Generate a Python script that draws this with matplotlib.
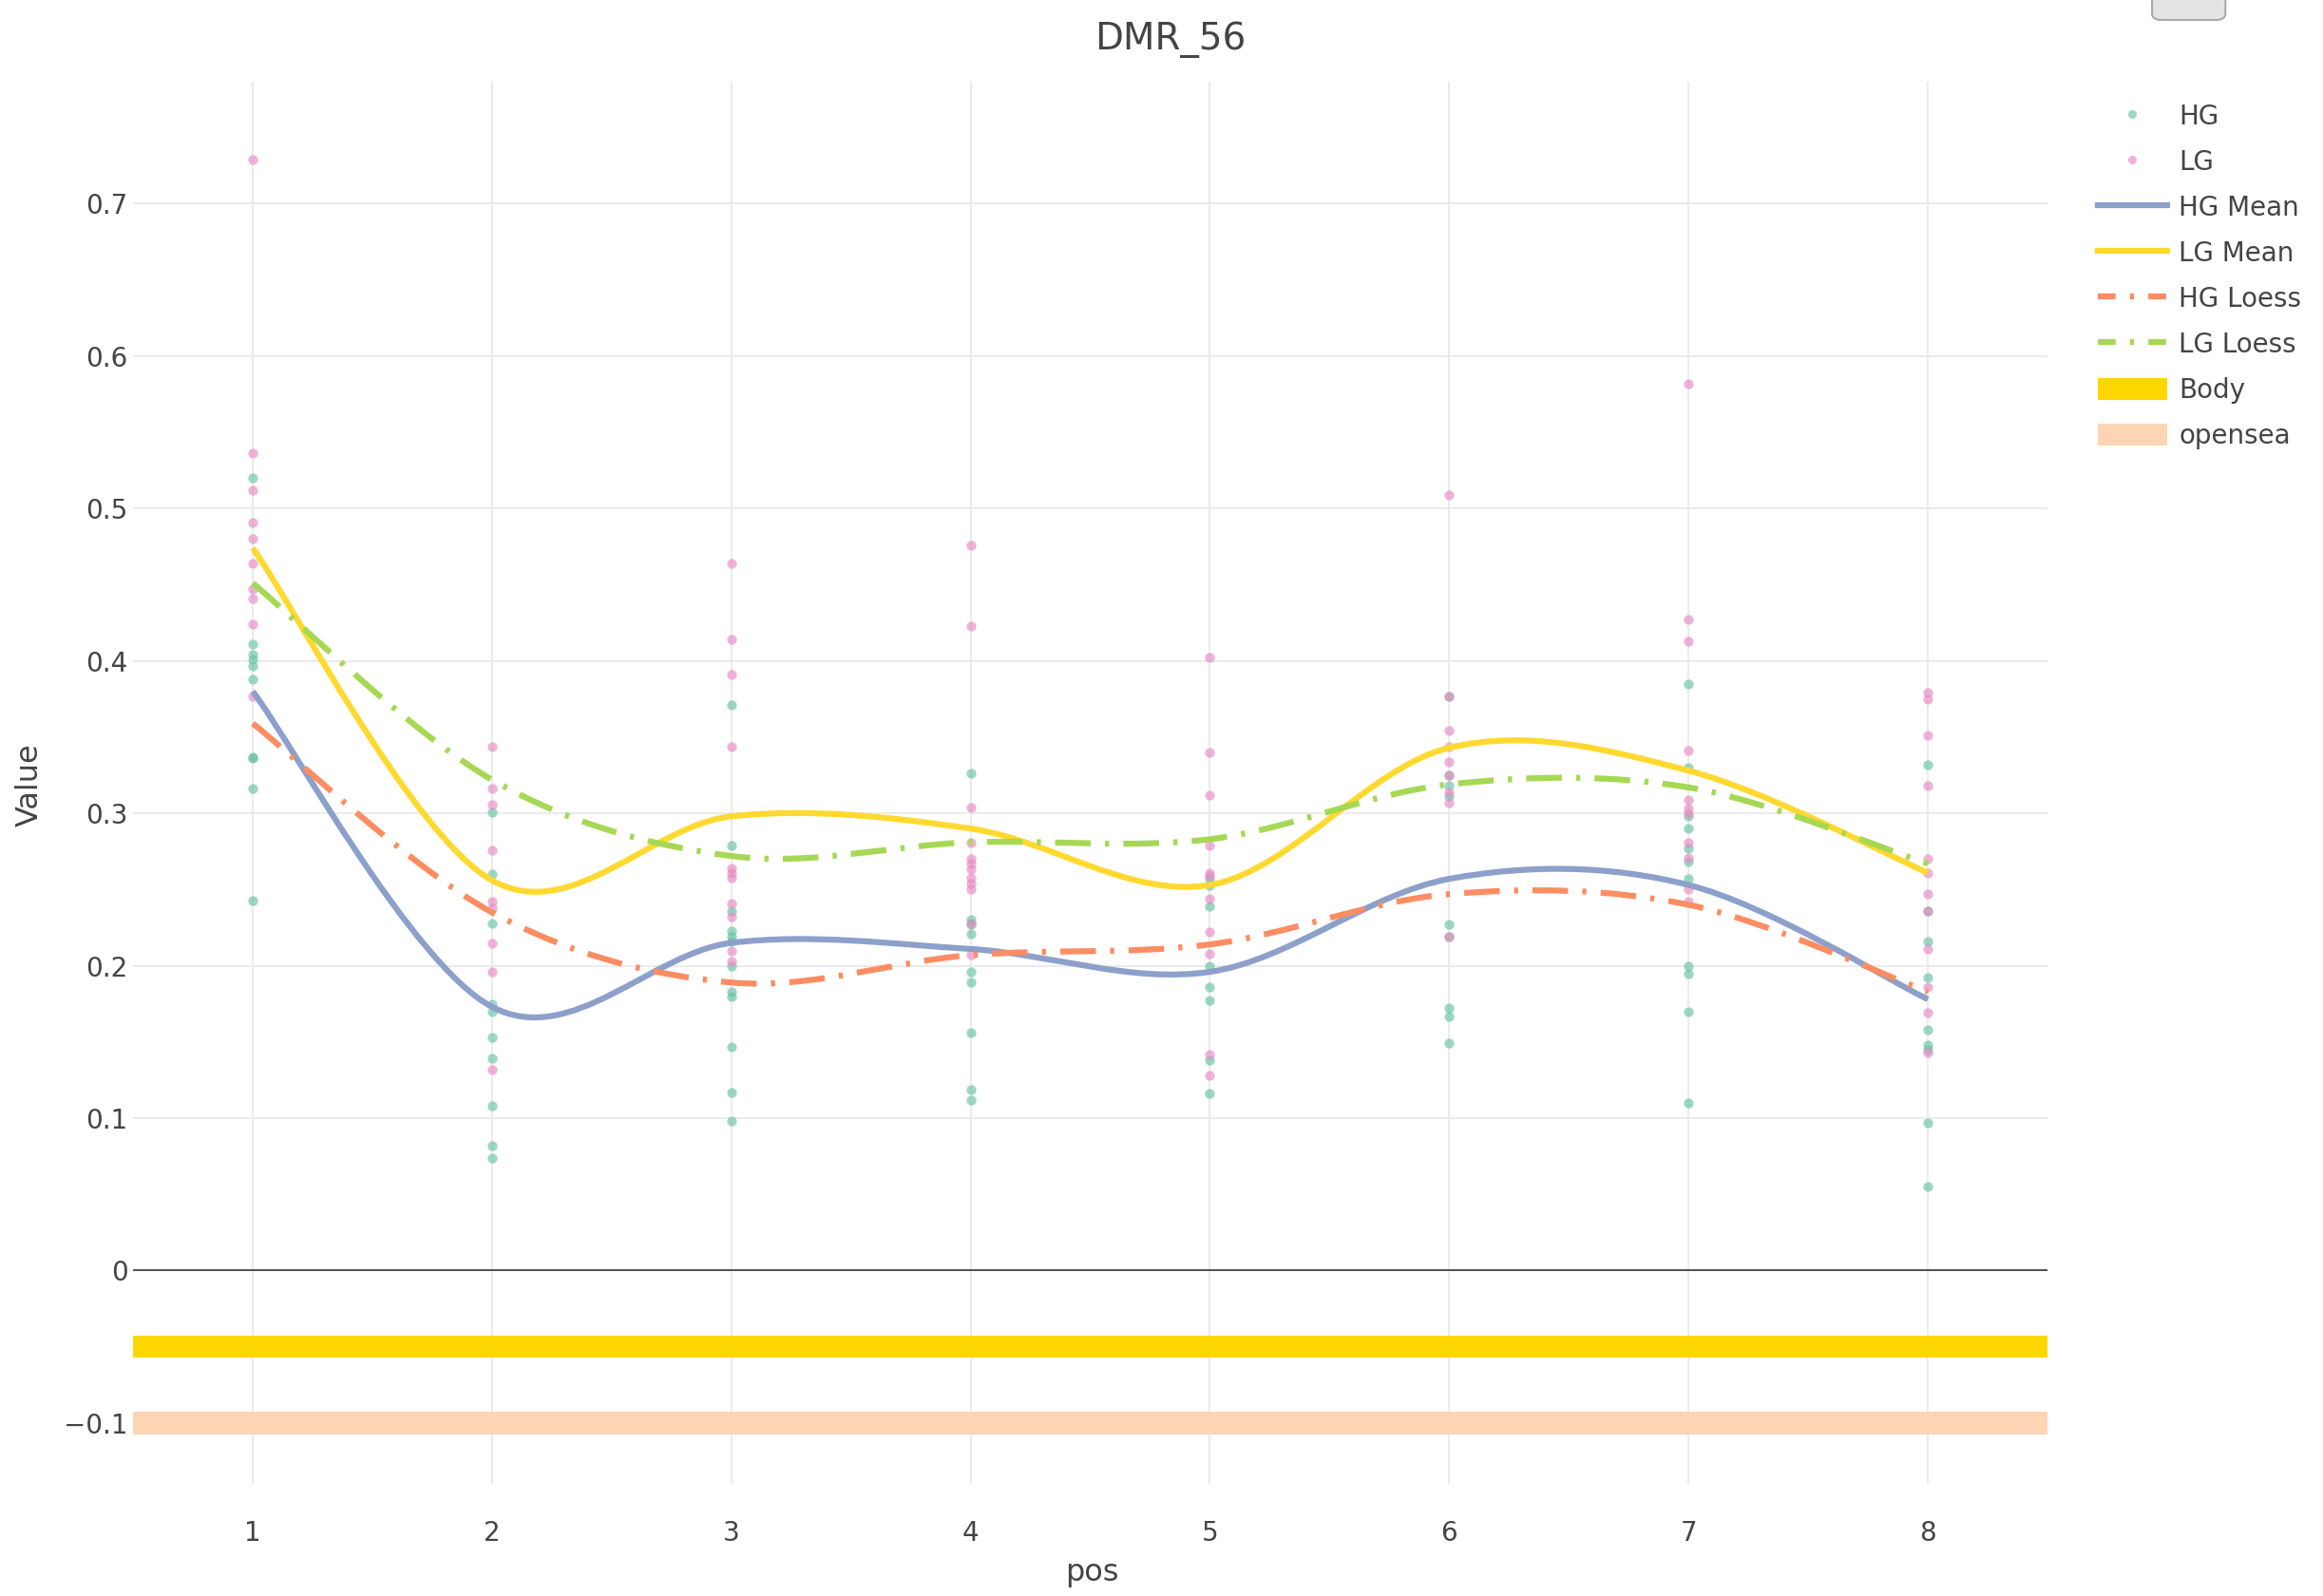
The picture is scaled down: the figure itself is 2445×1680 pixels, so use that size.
import numpy as np
import matplotlib.pyplot as plt
from matplotlib.path import Path
from matplotlib.patches import PathPatch, Patch, FancyBboxPatch
from matplotlib.lines import Line2D

plt.rcParams['font.family'] = ['DejaVu Sans']

# data
positions = [1, 2, 3, 4, 5, 6, 7, 8]

hg_points = [
    [0.52, 0.411, 0.404, 0.401, 0.397, 0.388, 0.337, 0.336, 0.316, 0.243],
    [0.301, 0.26, 0.228, 0.175, 0.17, 0.153, 0.139, 0.108, 0.082, 0.074],
    [0.371, 0.279, 0.236, 0.223, 0.219, 0.216, 0.2, 0.183, 0.18, 0.147, 0.117, 0.098],
    [0.326, 0.230, 0.227, 0.221, 0.196, 0.189, 0.156, 0.119, 0.112],
    [0.257, 0.253, 0.239, 0.2, 0.186, 0.177, 0.138, 0.116],
    [0.377, 0.325, 0.318, 0.311, 0.227, 0.219, 0.172, 0.167, 0.149],
    [0.385, 0.33, 0.298, 0.29, 0.277, 0.268, 0.257, 0.2, 0.195, 0.17, 0.11],
    [0.332, 0.236, 0.216, 0.192, 0.158, 0.148, 0.145, 0.097, 0.055],
]
lg_points = [
    [0.729, 0.536, 0.512, 0.491, 0.48, 0.464, 0.447, 0.441, 0.424, 0.377],
    [0.344, 0.316, 0.306, 0.276, 0.242, 0.238, 0.215, 0.196, 0.132],
    [0.464, 0.414, 0.391, 0.344, 0.264, 0.261, 0.258, 0.241, 0.232, 0.21, 0.203],
    [0.476, 0.423, 0.304, 0.281, 0.270, 0.267, 0.263, 0.258, 0.254, 0.25, 0.228, 0.207],
    [0.402, 0.34, 0.312, 0.279, 0.261, 0.259, 0.244, 0.222, 0.208, 0.142, 0.128],
    [0.509, 0.377, 0.354, 0.344, 0.334, 0.325, 0.314, 0.307, 0.219],
    [0.582, 0.427, 0.413, 0.341, 0.309, 0.303, 0.3, 0.281, 0.271, 0.25, 0.242],
    [0.379, 0.375, 0.351, 0.318, 0.27, 0.261, 0.247, 0.236, 0.211, 0.186, 0.169, 0.143],
]

hg_mean = [0.38, 0.173, 0.215, 0.211, 0.196, 0.257, 0.253, 0.178]
lg_mean = [0.474, 0.256, 0.298, 0.29, 0.253, 0.343, 0.328, 0.261]
hg_loess = [0.359, 0.235, 0.189, 0.207, 0.214, 0.247, 0.24, 0.183]
lg_loess = [0.451, 0.322, 0.272, 0.281, 0.283, 0.319, 0.317, 0.267]

body_y = -0.05
opensea_y = -0.10

HG_C = '#66c2a5'
LG_C = '#e78ac3'
HGM_C = '#8da0cb'
LGM_C = '#ffd92f'
HGL_C = '#fc8d62'
LGL_C = '#a6d854'
BODY_C = '#ffd700'
OPEN_C = '#fdd5b4'
TXT = '#444444'
LDASH = (0, (6, 2.4, 0.7, 2.4))


def spline(xs, ys):
    # smooth curve through the points, like plotly's line shape 'spline'
    P = np.column_stack([xs, ys]).astype(float)
    n = len(P)
    verts = [P[0]]
    codes = [Path.MOVETO]
    for i in range(n - 1):
        p0 = P[i - 1] if i > 0 else P[i]
        p1, p2 = P[i], P[i + 1]
        p3 = P[i + 2] if i + 2 < n else P[i + 1]
        verts += [p1 + (p2 - p0) / 6, p2 - (p3 - p1) / 6, p2]
        codes += [Path.CURVE4] * 3
    return Path(verts, codes)


fig = plt.figure(figsize=(24.45, 16.8), dpi=100)
ax = fig.add_axes([0.0573, 0.0702, 0.8241, 0.8786])

# category bars below zero
for p in positions:
    ax.barh(body_y, 1, left=p - 0.5, height=0.0145, color=BODY_C, linewidth=0, zorder=1)
    ax.barh(opensea_y, 1, left=p - 0.5, height=0.0145, color=OPEN_C, linewidth=0, zorder=1)

for p, vals in zip(positions, hg_points):
    ax.scatter([p] * len(vals), vals, s=55, color=HG_C, alpha=0.65, linewidths=0, zorder=3)
for p, vals in zip(positions, lg_points):
    ax.scatter([p] * len(vals), vals, s=55, color=LG_C, alpha=0.65, linewidths=0, zorder=3)

for vals, col, ls in [(hg_mean, HGM_C, '-'), (lg_mean, LGM_C, '-'),
                      (hg_loess, HGL_C, LDASH), (lg_loess, LGL_C, LDASH)]:
    ax.add_patch(PathPatch(spline(positions, vals), fill=False, edgecolor=col,
                           linewidth=4.5, linestyle=ls, capstyle='butt', zorder=4))

ax.axhline(0, color=TXT, linewidth=1.3, zorder=2)

ax.set_xlim(0.5, 8.5)
ax.set_ylim(-0.14, 0.78)
ax.set_xticks(positions)
ax.set_yticks([-0.1, 0, 0.1, 0.2, 0.3, 0.4, 0.5, 0.6, 0.7])
ax.set_yticklabels(['\u22120.1', '0', '0.1', '0.2', '0.3', '0.4', '0.5', '0.6', '0.7'])
ax.grid(True, color='#ebebeb', linewidth=1.5, zorder=0)
ax.set_axisbelow(True)
for s in ax.spines.values():
    s.set_visible(False)
ax.tick_params(axis='both', length=0, labelsize=20, labelcolor=TXT)
ax.tick_params(axis='x', pad=27)
ax.tick_params(axis='y', pad=4)

fig.text(0.504, 0.975, 'DMR_56', ha='center', va='center', fontsize=28, color=TXT)
fig.text(0.0127, 0.508, 'Value', rotation=90, ha='center', va='center', fontsize=23, color=TXT)
fig.text(0.47, 0.0143, 'pos', ha='center', va='center', fontsize=23, color=TXT)

handles = [
    Line2D([], [], marker='o', linestyle='none', color=HG_C, alpha=0.65, markersize=6.5, markeredgewidth=0),
    Line2D([], [], marker='o', linestyle='none', color=LG_C, alpha=0.65, markersize=6.5, markeredgewidth=0),
    Line2D([], [], color=HGM_C, linewidth=4.5),
    Line2D([], [], color=LGM_C, linewidth=4.5),
    Line2D([], [], color=HGL_C, linewidth=4.5, linestyle=(0, (3, 2.4, 0.7, 2.4))),
    Line2D([], [], color=LGL_C, linewidth=4.5, linestyle=(0, (3, 2.4, 0.7, 2.4))),
    Patch(facecolor=BODY_C),
    Patch(facecolor=OPEN_C),
]
labels = ['HG', 'LG', 'HG Mean', 'LG Mean', 'HG Loess', 'LG Loess', 'Body', 'opensea']
fig.legend(handles, labels, loc='upper left', bbox_to_anchor=(0.893, 0.95), frameon=False,
           fontsize=20, labelcolor=TXT, handlelength=2.6, handleheight=0.9,
           labelspacing=0.72, handletextpad=0.45)

# modebar button remnant at the top right
fig.patches.append(FancyBboxPatch((0.9264, 0.9875), 0.0316, 0.03, boxstyle='round,pad=0,rounding_size=0.004',
                                  transform=fig.transFigure, facecolor='#e4e4e4',
                                  edgecolor='#aaaaaa', linewidth=1.5))

fig.savefig('out.png', dpi=100)
